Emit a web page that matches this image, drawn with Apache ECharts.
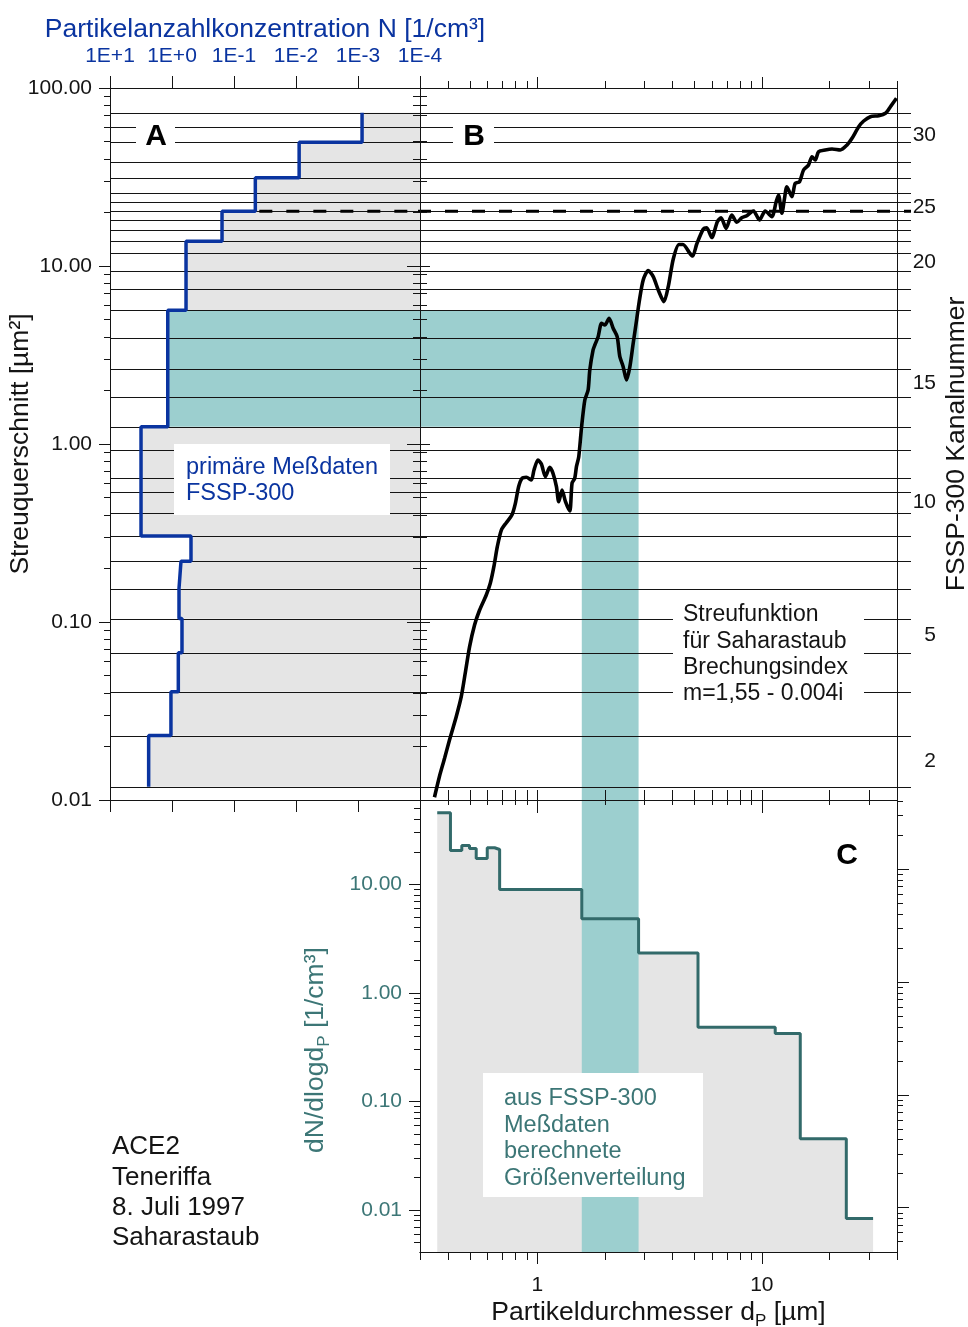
<!DOCTYPE html>
<html>
<head>
<meta charset="utf-8">
<script src="https://cdn.jsdelivr.net/npm/echarts@6/dist/echarts.min.js"></script>
<style>
  html, body { margin: 0; padding: 0; background: #fff; }
  #chart { width: 968px; height: 1327px; }
</style>
</head>
<body>
<div id="chart"></div>
<script>
// --- data ---
// FSSP-300 channel boundaries (scattering cross section, um^2), channel 2 lower edge .. channel 31 upper edge
var channelEdges = [0.01188, 0.0230, 0.0406, 0.0671, 0.1046, 0.1539, 0.2196, 0.304, 0.412, 0.537, 0.644, 0.931,
  1.25, 1.84, 2.65, 3.94, 5.64, 7.40, 9.41, 11.79, 13.77, 15.87, 18.06, 20.3, 22.8, 25.7, 31.3, 38.5, 49.5, 60.1, 72.6];
var labelChannels = [2, 5, 10, 15, 20, 25, 30];

// panel A: measured number concentration per (merged) channel group
var stepEdges = [0.01188, 0.0230, 0.0406, 0.0671, 0.1046, 0.1539, 0.2196, 0.304, 1.25, 5.64, 13.77, 20.3, 31.3, 49.5, 72.6];
var stepN = [2.38, 1.04, 0.791, 0.69, 0.771, 0.716, 0.494, 3.16, 1.17, 0.594, 0.156, 0.0453, 0.0089, 0.00086];

// highlighted channel group and its diameter range
var tealSigma = [1.25, 5.64];
var tealDiam = [1.577, 2.824];
var dashedSigma = 20.3;
var dashedFromN = 0.0453;

// panel B: scattering function (diameter um, cross section um^2)
var curveD = [0.348,0.366,0.386,0.406,0.435,0.458,0.477,0.499,0.525,0.553,
  0.592,0.617,0.640,0.663,0.691,0.727,0.770,0.798,0.825,0.854,
  0.893,0.940,0.966,1.006,1.042,1.086,1.135,1.174,1.216,1.245,
  1.288,1.334,1.394,1.427,1.467,1.493,1.529,1.572,1.627,1.683,
  1.712,1.771,1.803,1.865,1.931,1.997,2.087,2.175,2.267,2.330,
  2.411,2.496,2.583,2.672,2.767,2.842,2.961,3.117,3.282,3.455,
  3.663,3.828,4.031,4.274,4.453,4.786,4.920,5.128,5.487,5.682,
  5.981,6.336,6.581,6.928,7.347,7.734,8.142,8.570,9.173,9.757,
  10.35,11.08,11.58,11.86,12.28,12.62,12.93,13.61,14.08,14.72,
  15.34,16.14,16.72,17.30,17.89,19.16,20.54,22.37,23.96,25.22,
  27.00,28.42,30.44,33.15,35.52,37.39,39.78];
var curveSigma = [0.01036,0.01352,0.01715,0.02174,0.02938,0.03804,0.05149,0.07264,0.09618,0.1168,
  0.1418,0.1650,0.2045,0.2649,0.3287,0.3613,0.3993,0.4644,0.5756,0.6419,
  0.6502,0.6280,0.7142,0.8130,0.7720,0.6553,0.7397,0.6846,0.5756,0.4741,
  0.5515,0.4741,0.4204,0.6015,0.6419,0.7455,0.8487,1.230,1.767,2.011,
  2.604,3.375,3.599,4.007,4.765,4.661,5.084,4.467,4.007,3.093,
  2.719,2.288,2.719,3.679,4.973,6.302,8.343,9.434,8.709,7.333,
  6.302,7.648,10.95,13.21,13.21,11.76,11.38,13.29,16.14,16.41,
  14.46,17.74,18.67,16.28,19.34,17.60,18.67,19.17,20.37,18.13,
  20.37,18.92,22.97,25.05,19.78,24.01,27.90,24.51,29.15,29.76,
  34.62,36.93,41.11,39.40,43.86,44.84,45.42,44.84,47.84,52.18,
  60.62,65.26,69.00,69.89,72.11,78.50,87.53];

// panel C: size distribution, bin edges (um) and dN/dlogdP (1/cm^3)
var sizeEdges = [0.358, 0.410, 0.4606, 0.4985, 0.534, 0.598, 0.645, 0.679, 1.577, 2.824, 5.195, 11.47, 14.83, 23.78, 31.3];
var sizeDN = [45.7, 20.5, 22.8, 21.4, 17.3, 21.8, 21.0, 9.0, 4.84, 2.33, 0.484, 0.423, 0.0454, 0.00834];

// --- styling ---
var FONT = '"Liberation Sans", Arial, Helvetica, sans-serif';
var BLUE = '#0a34a0', TEAL = '#9ccfcf', GRAY = '#e5e5e5', GREEN = '#326a6a', TEAL_TXT = '#3c7676', INK = '#141414';

function logTicks(lo, hi, major) {
  var out = [];
  for (var e = Math.floor(Math.log10(lo)); e <= Math.ceil(Math.log10(hi)); e++) {
    for (var k = 1; k <= 9; k++) {
      if ((k === 1) !== major) continue;
      var v = +(k * Math.pow(10, e)).toPrecision(6);
      if (v >= lo && v <= hi) out.push(v);
    }
  }
  return out;
}

var sigmaMaj = logTicks(0.01, 100, true), sigmaMin = logTicks(0.01, 100, false);
var sizeMaj = logTicks(0.3, 40, true), sizeMin = logTicks(0.3, 40, false);
var sizeAll = sizeMaj.concat(sizeMin);
var nMaj = logTicks(1e-4, 10, true);
var dnMaj = logTicks(0.0041, 60, true), dnMin = logTicks(0.0041, 60, false);
var rMaj = logTicks(0.00405, 40.8, true), rMin = logTicks(0.00405, 40.8, false);

var channelCenters = labelChannels.map(function (k) {
  return Math.sqrt(channelEdges[k - 2] * channelEdges[k - 1]);
});

function logAxis(o) {
  var ax = {
    type: 'log', logBase: 10, gridIndex: o.grid, position: o.pos, min: o.min, max: o.max,
    inverse: !!o.inverse, offset: 0, z: 10, silent: true,
    axisLine: { show: true, onZero: false, lineStyle: { color: INK, width: 1 } },
    axisTick: o.ticks ? { show: true, customValues: o.ticks, inside: !!o.inside, length: o.len, lineStyle: { color: INK, width: 1 } } : { show: false },
    axisLabel: { show: false },
    splitLine: { show: false },
    minorTick: { show: false },
    minorSplitLine: { show: false }
  };
  if (o.labels) {
    ax.axisLabel = Object.assign({ show: true, customValues: o.labels, fontFamily: FONT, fontSize: 21, color: INK }, o.labelOpts);
  }
  if (o.name) {
    ax.name = o.name;
    ax.nameLocation = 'middle';
    ax.nameGap = o.nameGap;
    ax.nameMoveOverlap = false;
    if (o.nameRotate != null) ax.nameRotate = o.nameRotate;
    ax.nameTextStyle = Object.assign({ fontFamily: FONT, fontSize: 26.5, color: INK }, o.nameStyle);
  }
  return ax;
}

function fmtE(v) {
  var e = Math.round(Math.log10(v));
  return '1E' + (e >= 0 ? '+' : '') + e;
}
function channelLabel(v) {
  var best = 0;
  channelCenters.forEach(function (c, i) {
    if (Math.abs(Math.log(v / c)) < Math.abs(Math.log(v / channelCenters[best]))) best = i;
  });
  return String(labelChannels[best]);
}

var xAxes = [
  logAxis({ grid: 0, pos: 'top', min: 1e-4, max: 10, inverse: true, ticks: nMaj, len: 12, labels: nMaj,
    labelOpts: { color: BLUE, margin: 21, formatter: fmtE },
    name: 'Partikelanzahlkonzentration N [1/cm³]', nameGap: 45, nameStyle: { color: BLUE } }),
  logAxis({ grid: 0, pos: 'bottom', min: 1e-4, max: 10, inverse: true, ticks: nMaj, len: 12 }),
  logAxis({ grid: 1, pos: 'top', min: 0.3, max: 40, ticks: sizeMin, len: 7 }),
  logAxis({ grid: 1, pos: 'top', min: 0.3, max: 40, ticks: sizeMaj, len: 11 }),
  logAxis({ grid: 1, pos: 'bottom', min: 0.3, max: 40, ticks: sizeAll, len: 10, inside: true }),
  logAxis({ grid: 2, pos: 'top', min: 0.3, max: 40, ticks: sizeMin, len: 5, inside: true }),
  logAxis({ grid: 2, pos: 'top', min: 0.3, max: 40, ticks: sizeMaj, len: 13, inside: true }),
  logAxis({ grid: 2, pos: 'bottom', min: 0.3, max: 40, ticks: sizeMin, len: 8, labels: sizeMaj,
    labelOpts: { margin: 23, formatter: function (v) { return String(v); } },
    name: '{n|Partikeldurchmesser d}{s|P}{n| [µm]}', nameGap: 44,
    nameStyle: { rich: {
      n: { fontFamily: FONT, fontSize: 26.5, color: INK, lineHeight: 34 },
      s: { fontFamily: FONT, fontSize: 17, color: INK, lineHeight: 17, verticalAlign: 'bottom' } } } }),
  logAxis({ grid: 2, pos: 'bottom', min: 0.3, max: 40, ticks: sizeMaj, len: 12 })
];

var yAxes = [
  logAxis({ grid: 0, pos: 'left', min: 0.01, max: 100, ticks: sigmaMin, len: 6, labels: sigmaMaj,
    labelOpts: { margin: 18, formatter: function (v) { return v.toFixed(2); } },
    name: 'Streuquerschnitt [µm²]', nameGap: 76, nameRotate: 90 }),
  logAxis({ grid: 0, pos: 'left', min: 0.01, max: 100, ticks: sigmaMaj, len: 11 }),
  logAxis({ grid: 1, pos: 'left', min: 0.01, max: 100, ticks: sigmaMin, len: 7 }),
  logAxis({ grid: 1, pos: 'left', min: 0.01, max: 100, ticks: sigmaMin, len: 7, inside: true }),
  logAxis({ grid: 1, pos: 'left', min: 0.01, max: 100, ticks: sigmaMaj, len: 13 }),
  logAxis({ grid: 1, pos: 'left', min: 0.01, max: 100, ticks: sigmaMaj, len: 10, inside: true }),
  logAxis({ grid: 1, pos: 'right', min: 0.01, max: 100, labels: channelCenters,
    labelOpts: { align: 'right', margin: 39, formatter: channelLabel },
    name: 'FSSP-300 Kanalnummer', nameGap: 46, nameRotate: 90 }),
  logAxis({ grid: 2, pos: 'left', min: 0.0041, max: 60, ticks: dnMin, len: 6, labels: dnMaj,
    labelOpts: { color: TEAL_TXT, margin: 18, formatter: function (v) { return v.toFixed(2); } } }),
  logAxis({ grid: 2, pos: 'left', min: 0.0041, max: 60, ticks: dnMaj, len: 11 }),
  logAxis({ grid: 2, pos: 'right', min: 0.00405, max: 40.8, ticks: rMin, len: 6 }),
  logAxis({ grid: 2, pos: 'right', min: 0.00405, max: 40.8, ticks: rMaj, len: 12 })
];

// panel A rows: [N, sigma low, sigma high, isTeal]
var groupRows = stepN.map(function (n, i) {
  return [n, stepEdges[i], stepEdges[i + 1], stepEdges[i] === tealSigma[0] ? 1 : 0];
});
// blue step polyline
var bluePath = [];
stepN.forEach(function (n, i) {
  bluePath.push([n, stepEdges[i]]);
  bluePath.push([n, stepEdges[i + 1]]);
});
var curveData = curveD.map(function (d, i) { return [d, curveSigma[i]]; });
var sizeData = sizeEdges.map(function (d, i) { return [d, sizeDN[Math.min(i, sizeDN.length - 1)]]; });

function crisp(v) { return Math.round(v) + 0.5; }

function hLines(extra) {
  return function (params, api) {
    var cs = params.coordSys;
    var y = crisp(api.coord([1, api.value(0)])[1]);
    return { type: 'line', shape: { x1: cs.x, y1: y, x2: cs.x + cs.width + extra, y2: y },
      style: { stroke: INK, lineWidth: 1 } };
  };
}
var DASH = { stroke: '#000', lineWidth: 3.2, lineDash: [13, 14] };

var series = [
  { // panel A: gray / teal area right of the measured step
    type: 'custom', xAxisIndex: 0, yAxisIndex: 0, z: 1, silent: true,
    encode: { x: 0, y: [1, 2] }, data: groupRows,
    renderItem: function (params, api) {
      var cs = params.coordSys;
      var top = api.coord([api.value(0), api.value(2)]);
      var bot = api.coord([api.value(0), api.value(1)]);
      return { type: 'rect', shape: { x: top[0], y: top[1], width: cs.x + cs.width - top[0], height: bot[1] - top[1] },
        style: { fill: api.value(3) ? TEAL : GRAY } };
    }
  },
  { // panel B: teal band, horizontal part and vertical part
    type: 'custom', xAxisIndex: 2, yAxisIndex: 2, z: 1, silent: true,
    encode: { x: [0, 2], y: [1, 3] }, data: [[tealDiam[0], tealSigma[0], tealDiam[1], tealSigma[1]]],
    renderItem: function (params, api) {
      var cs = params.coordSys;
      var a = api.coord([api.value(0), api.value(3)]);
      var b = api.coord([api.value(2), api.value(1)]);
      return { type: 'group', children: [
        { type: 'rect', shape: { x: cs.x, y: a[1], width: b[0] - cs.x, height: b[1] - a[1] }, style: { fill: TEAL } },
        { type: 'rect', shape: { x: a[0], y: b[1], width: b[0] - a[0], height: cs.y + cs.height - b[1] }, style: { fill: TEAL } }
      ] };
    }
  },
  { // panel C: gray area under size distribution
    type: 'line', xAxisIndex: 7, yAxisIndex: 7, z: 1, silent: true, step: 'end', symbol: 'none',
    data: sizeData, lineStyle: { width: 0, opacity: 0 }, areaStyle: { color: GRAY, opacity: 1, origin: 'start' }
  },
  { // panel C: teal band
    type: 'custom', xAxisIndex: 7, yAxisIndex: 7, z: 2, silent: true,
    encode: { x: [0, 1] }, data: [[tealDiam[0], tealDiam[1]]],
    renderItem: function (params, api) {
      var cs = params.coordSys;
      var x1 = api.coord([api.value(0), 1])[0];
      var x2 = api.coord([api.value(1), 1])[0];
      return { type: 'rect', shape: { x: x1, y: cs.y, width: x2 - x1, height: cs.height }, style: { fill: TEAL } };
    }
  },
  { // panel C: size distribution
    type: 'line', xAxisIndex: 7, yAxisIndex: 7, z: 3, silent: true, step: 'end', symbol: 'none',
    data: sizeData, lineStyle: { color: GREEN, width: 3 }
  },
  { // channel boundaries, panel A
    type: 'custom', xAxisIndex: 0, yAxisIndex: 0, z: 2, silent: true,
    encode: { y: 0 }, data: channelEdges.map(function (e) { return [e]; }),
    renderItem: hLines(0)
  },
  { // channel boundaries, panel B (running a little past the right axis)
    type: 'custom', xAxisIndex: 2, yAxisIndex: 2, z: 2, silent: true, clip: false,
    encode: { y: 0 }, data: channelEdges.map(function (e) { return [e]; }),
    renderItem: hLines(14)
  },
  { // dashed level, panel A
    type: 'custom', xAxisIndex: 0, yAxisIndex: 0, z: 3, silent: true,
    encode: { x: 0, y: 1 }, data: [[dashedFromN, dashedSigma]],
    renderItem: function (params, api) {
      var cs = params.coordSys;
      var p = api.coord([api.value(0), api.value(1)]);
      return { type: 'line', shape: { x1: p[0] + 4, y1: p[1], x2: cs.x + cs.width, y2: p[1] }, style: DASH };
    }
  },
  { // dashed level, panel B
    type: 'custom', xAxisIndex: 2, yAxisIndex: 2, z: 3, silent: true, clip: false,
    encode: { y: 0 }, data: [[dashedSigma]],
    renderItem: function (params, api) {
      var cs = params.coordSys;
      var y = api.coord([1, api.value(0)])[1];
      return { type: 'line', shape: { x1: cs.x - 2, y1: y, x2: cs.x + cs.width + 14, y2: y }, style: DASH };
    }
  },
  { // panel A: measured data FSSP-300
    type: 'line', xAxisIndex: 0, yAxisIndex: 0, z: 4, silent: true, symbol: 'none',
    data: bluePath, lineStyle: { color: BLUE, width: 3.5 }
  },
  { // panel B: scattering function
    type: 'line', xAxisIndex: 2, yAxisIndex: 2, z: 4, silent: true, symbol: 'none', smooth: 0.25,
    data: curveData, lineStyle: { color: '#000', width: 3.6 }
  }
];

function box(x, y, w, h) {
  return { type: 'rect', z: 100, silent: true, shape: { x: x, y: y, width: w, height: h }, style: { fill: '#fff' } };
}
function label(x, y, text, size, color, extra) {
  return { type: 'text', z: 101, silent: true, x: x, y: y,
    style: Object.assign({ text: text, fontFamily: FONT, fontSize: size, fill: color }, extra || {}) };
}

var graphics = [
  box(136, 118, 39, 37),
  label(156, 137, 'A', 30, '#000', { fontWeight: 'bold', align: 'center', verticalAlign: 'middle' }),
  box(453, 118, 41, 37),
  label(474, 137, 'B', 30, '#000', { fontWeight: 'bold', align: 'center', verticalAlign: 'middle' }),
  label(847, 856, 'C', 30, '#000', { fontWeight: 'bold', align: 'center', verticalAlign: 'middle' }),
  box(174, 444, 216, 71),
  label(186, 455, 'primäre Meßdaten\nFSSP-300', 23.5, BLUE, { lineHeight: 26 }),
  box(673, 598, 191, 111),
  label(683, 602, 'Streufunktion\nfür Saharastaub\nBrechungsindex\nm=1,55 - 0.004i', 23, INK, { lineHeight: 26.3 }),
  box(483, 1073, 220, 124),
  label(504, 1085, 'aus FSSP-300\nMeßdaten\nberechnete\nGrößenverteilung', 23.5, TEAL_TXT, { lineHeight: 26.7 }),
  label(112, 1132, 'ACE2\nTeneriffa\n8. Juli 1997\nSaharastaub', 26, INK, { lineHeight: 30.3 }),
  { type: 'text', z: 101, silent: true, x: 316, y: 1050, rotation: Math.PI / 2,
    style: { text: '{n|dN/dlogd}{s|P}{n| [1/cm³]}', align: 'center', verticalAlign: 'middle',
      rich: { n: { fontFamily: FONT, fontSize: 26.5, fill: TEAL_TXT, color: TEAL_TXT, lineHeight: 34 },
              s: { fontFamily: FONT, fontSize: 17, fill: TEAL_TXT, color: TEAL_TXT, lineHeight: 17, verticalAlign: 'bottom' } } } }
];

var chart = echarts.init(document.getElementById('chart'), null, { renderer: 'canvas' });
chart.setOption({
  animation: false,
  backgroundColor: '#fff',
  textStyle: { fontFamily: FONT },
  grid: [
    { left: 110, top: 88, width: 310, height: 712, outerBoundsMode: 'none', containLabel: false },
    { left: 420, top: 88, width: 477, height: 712, outerBoundsMode: 'none', containLabel: false },
    { left: 420, top: 800, width: 477, height: 452, outerBoundsMode: 'none', containLabel: false }
  ],
  xAxis: xAxes,
  yAxis: yAxes,
  series: series,
  graphic: { elements: graphics }
});
</script>
</body>
</html>
